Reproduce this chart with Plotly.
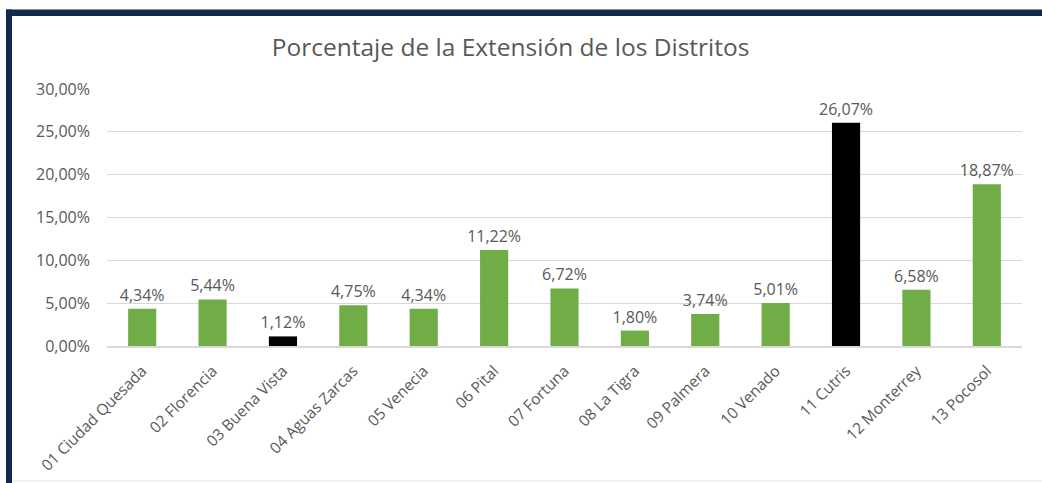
import plotly.graph_objects as go

categories = ["01 Ciudad Quesada", "02 Florencia", "03 Buena Vista", "04 Aguas Zarcas",
              "05 Venecia", "06 Pital", "07 Fortuna", "08 La Tigra", "09 Palmera",
              "10 Venado", "11 Cutris", "12 Monterrey", "13 Pocosol"]
values = [4.34, 5.44, 1.12, 4.75, 4.34, 11.22, 6.72, 1.80, 3.74, 5.01, 26.07, 6.58, 18.87]
highlighted = ["03 Buena Vista", "11 Cutris"]
tick_vals = [0, 5, 10, 15, 20, 25, 30]

GREEN = "#70ad47"
BLACK = "#000000"
TEXT = "#595959"
FONT = "Open Sans"

colors = [BLACK if c in highlighted else GREEN for c in categories]
labels = [f"{v:.2f}%".replace(".", ",") for v in values]
tick_text = [f"{v:.2f}%".replace(".", ",") for v in tick_vals]

fig = go.Figure(go.Bar(
    x=categories, y=values, marker_color=colors, marker_line_width=0,
    width=0.4, text=labels, textposition="outside", cliponaxis=False,
    constraintext="none",
    textfont=dict(family=FONT, size=16, color=TEXT),
))

W, H = 1042, 483
L, R, T, B = 107, 20, 89, 137
pw, ph = W - L - R, H - T - B

def px_x(x):
    return (x - L) / pw

def px_y(y):
    return (H - B - y) / ph

fig.update_layout(
    width=W, height=H,
    margin=dict(l=L, r=R, t=T, b=B, autoexpand=False),
    paper_bgcolor="white", plot_bgcolor="white",
    separators=",.",
    showlegend=False,
    title=dict(text="Porcentaje de la Extensión de los Distritos", x=0.49, xref="container",
               xanchor="center", y=1 - 47 / H, yanchor="middle",
               font=dict(family=FONT, size=24.5, color=TEXT)),
    font=dict(family=FONT, color=TEXT),
    xaxis=dict(tickangle=-45, tickfont=dict(family=FONT, size=15.5, color=TEXT),
               showline=True, linecolor="#d9d9d9", linewidth=1.5,
               showgrid=False, ticks="", automargin=False, ticklabelstandoff=8),
    yaxis=dict(range=[0, 30], tickvals=tick_vals, ticktext=tick_text,
               tickfont=dict(family=FONT, size=16, color=TEXT),
               showgrid=True, gridcolor="#d9d9d9", gridwidth=1,
               zeroline=False, showline=False, ticks="", ticklabelstandoff=16,
               automargin=False),
    shapes=[
        dict(type="rect", xref="paper", yref="paper",
             x0=px_x(6), x1=px_x(W), y0=px_y(16), y1=px_y(9.5),
             fillcolor="#13294b", line_width=0, layer="above"),
        dict(type="rect", xref="paper", yref="paper",
             x0=px_x(6), x1=px_x(12), y0=px_y(H), y1=px_y(9.5),
             fillcolor="#13294b", line_width=0, layer="above"),
        dict(type="line", xref="paper", yref="paper",
             x0=px_x(12), x1=px_x(W), y0=px_y(481), y1=px_y(481),
             line=dict(color="#e6e6e6", width=1), layer="above"),
    ],
)

fig.write_html("out.html", config={"displayModeBar": False},
               post_script="document.body.style.margin='0';document.body.style.overflow='hidden';")
